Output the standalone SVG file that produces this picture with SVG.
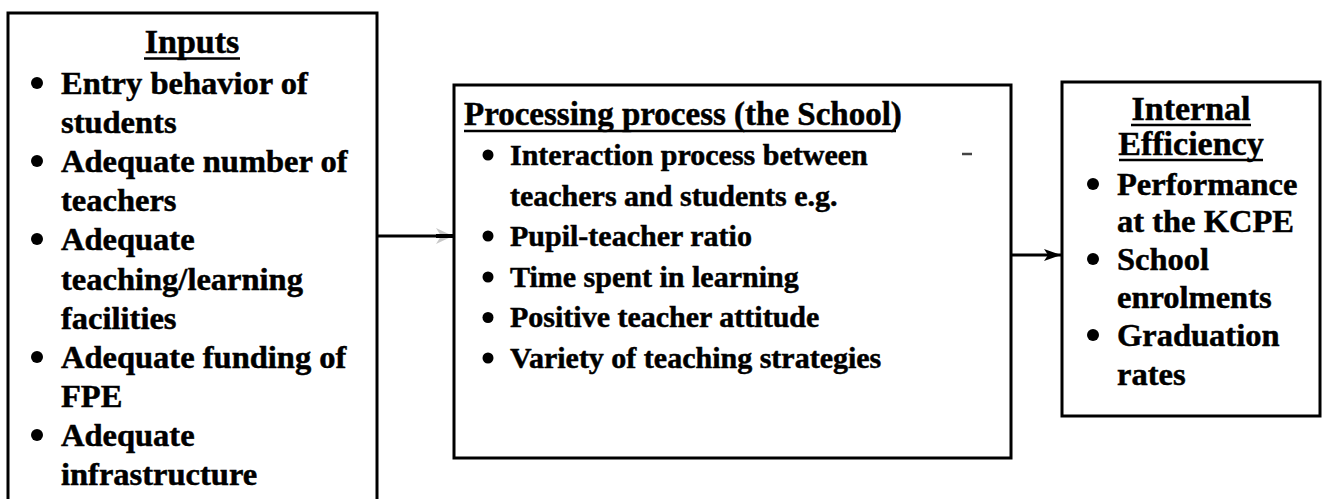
<svg xmlns="http://www.w3.org/2000/svg" width="1326" height="499" viewBox="0 0 1326 499">
  <defs>
    <style>
      .box { fill: #fff; stroke: #000; stroke-width: 3; }
      .t { font-family: "Liberation Serif", "Times New Roman", serif; font-weight: bold; fill: #000; stroke: #000; stroke-width: 0.5; }
      .title { font-size: 34px; }
      .ptitle { font-size: 33px; }
      .item { font-size: 32.5px; }
      .mid { font-size: 30px; }
      .bul { fill: #000; }
      .ul { stroke: #000; stroke-width: 2.5; }
      .conn { stroke: #000; stroke-width: 3; fill: none; }
    </style>
    <!-- solid arrowhead -->
    <marker id="head" markerUnits="userSpaceOnUse" markerWidth="18" markerHeight="14" refX="17" refY="7" orient="auto">
      <path d="M0,1 L17,7 L0,13 L4,7 Z" fill="#000"/>
    </marker>
    <!-- faded arrowhead with dark shaft -->
    <marker id="headFaint" markerUnits="userSpaceOnUse" markerWidth="18" markerHeight="20" refX="17" refY="10" orient="auto">
      <path d="M0,2 L17,10 L0,18 L5,10 Z" fill="#c8c8c8"/>
      <path d="M0,10 L17,10" stroke="#000" stroke-width="4"/>
    </marker>
  </defs>

  <rect width="1326" height="499" fill="#fff"/>

  <!-- Inputs -->
  <g id="inputs">
    <rect class="box" x="8" y="13" width="369" height="510"/>
    <text class="t title" x="192" y="53" text-anchor="middle">Inputs</text>
    <line class="ul" x1="144" y1="58.5" x2="240" y2="58.5"/>
    <circle class="bul" cx="37" cy="83" r="6"/>
    <text class="t item" x="61" y="94">Entry behavior of</text>
    <text class="t item" x="61" y="133">students</text>
    <circle class="bul" cx="37" cy="161" r="6"/>
    <text class="t item" x="61" y="172">Adequate number of</text>
    <text class="t item" x="61" y="211">teachers</text>
    <circle class="bul" cx="37" cy="239" r="6"/>
    <text class="t item" x="61" y="250">Adequate</text>
    <text class="t item" x="61" y="289.5">teaching/learning</text>
    <text class="t item" x="61" y="328.5">facilities</text>
    <circle class="bul" cx="37" cy="357" r="6"/>
    <text class="t item" x="61" y="368">Adequate funding of</text>
    <text class="t item" x="61" y="407">FPE</text>
    <circle class="bul" cx="37" cy="435" r="6"/>
    <text class="t item" x="61" y="446">Adequate</text>
    <text class="t item" x="61" y="485">infrastructure</text>
  </g>

  <!-- Processing process -->
  <g id="process">
    <rect class="box" x="454" y="85" width="557" height="373"/>
    <text class="t ptitle" x="464" y="125">Processing process (the School)</text>
    <line class="ul" x1="464" y1="131" x2="896" y2="131"/>
    <circle class="bul" cx="488" cy="155" r="5.5"/>
    <text class="t mid" x="510" y="165">Interaction process between</text>
    <text class="t mid" x="510" y="205.6">teachers and students e.g.</text>
    <circle class="bul" cx="488" cy="236" r="5.5"/>
    <text class="t mid" x="510" y="246.2">Pupil-teacher ratio</text>
    <circle class="bul" cx="488" cy="277" r="5.5"/>
    <text class="t mid" x="510" y="286.8">Time spent in learning</text>
    <circle class="bul" cx="488" cy="317.5" r="5.5"/>
    <text class="t mid" x="510" y="327.4">Positive teacher attitude</text>
    <circle class="bul" cx="488" cy="358" r="5.5"/>
    <text class="t mid" x="510" y="368">Variety of teaching strategies</text>
    <line x1="962" y1="154" x2="972" y2="154" stroke="#444" stroke-width="2.5"/>
  </g>

  <!-- Internal Efficiency -->
  <g id="efficiency">
    <rect class="box" x="1062" y="82" width="258" height="334"/>
    <text class="t title" x="1191" y="120" text-anchor="middle">Internal</text>
    <line class="ul" x1="1131" y1="125" x2="1251" y2="125"/>
    <text class="t title" x="1191" y="155" text-anchor="middle">Efficiency</text>
    <line class="ul" x1="1119" y1="160" x2="1263" y2="160"/>
    <circle class="bul" cx="1093" cy="184" r="6"/>
    <text class="t item" x="1117" y="195">Performance</text>
    <text class="t item" x="1117" y="232">at the KCPE</text>
    <circle class="bul" cx="1093" cy="259" r="6"/>
    <text class="t item" x="1117" y="270">School</text>
    <text class="t item" x="1117" y="308">enrolments</text>
    <circle class="bul" cx="1093" cy="335" r="6"/>
    <text class="t item" x="1117" y="346">Graduation</text>
    <text class="t item" x="1117" y="385">rates</text>
  </g>

  <!-- Connectors -->
  <g id="connectors">
    <path class="conn" d="M377,236 L453,236" marker-end="url(#headFaint)"/>
    <path class="conn" d="M1012,255 L1061,255" marker-end="url(#head)"/>
  </g>
</svg>
